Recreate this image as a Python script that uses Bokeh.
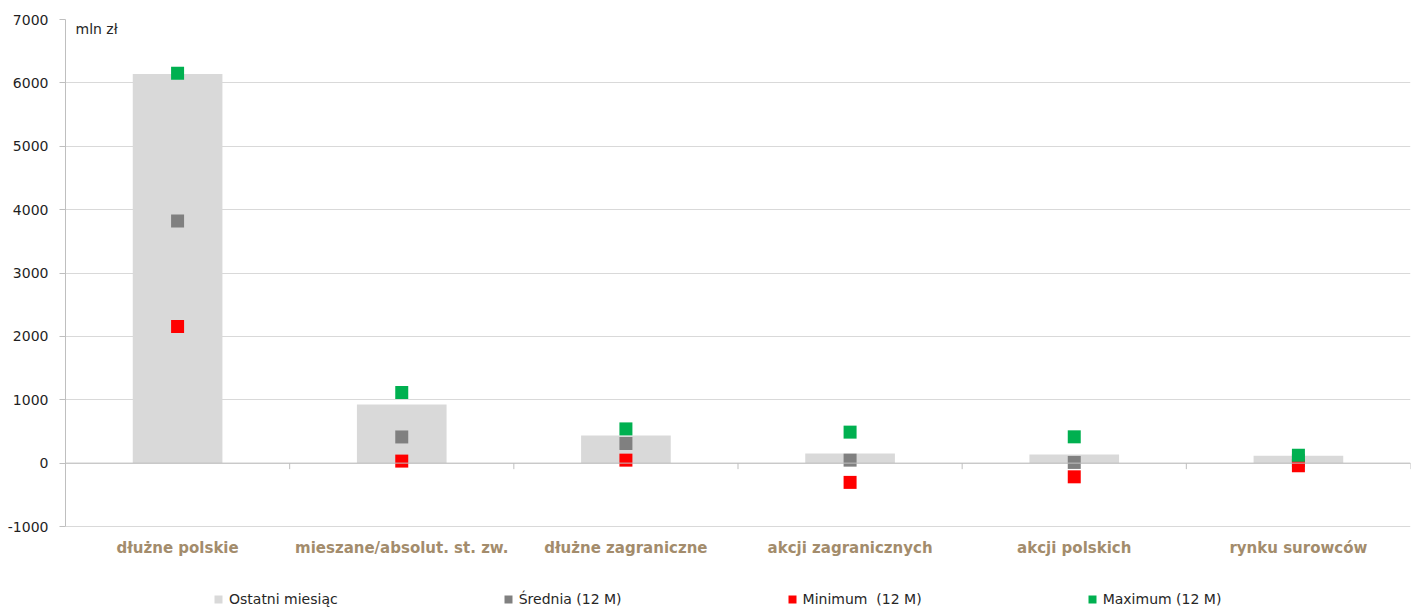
from bokeh.plotting import figure
from bokeh.models import FixedTicker, Span, Label, Legend, LegendItem, ColumnDataSource
from bokeh.transform import dodge
from bokeh.core.properties import value
from bokeh.embed import file_html
from bokeh.resources import INLINE

categories = ["dłużne polskie", "mieszane/absolut. st. zw.", "dłużne zagraniczne",
              "akcji zagranicznych", "akcji polskich", "rynku surowców"]
last_month = [6140, 926, 437, 150, 137, 115]
mean_12m = [3820, 413, 310, 47, 11, 40]
min_12m = [2156, 32, 47, -304, -216, -40]
max_12m = [6150, 1114, 540, 489, 415, 126]
y_ticks = [-1000, 0, 1000, 2000, 3000, 4000, 5000, 6000, 7000]
series_names = ["Ostatni miesiąc", "Średnia (12 M)", "Minimum  (12 M)", "Maximum (12 M)"]
series_colors = ["#D9D9D9", "#808080", "#FF0000", "#00B050"]

FONT = "DejaVu Sans"
W, H, TOP, LEFT = 1412, 607, 19, 65
AXIS_PX = 507  # pixel height of the -1000..7000 span
y_lo = y_ticks[-1] - (H - TOP) * (y_ticks[-1] - y_ticks[0]) / AXIS_PX

n = len(categories)
src = ColumnDataSource(dict(cat=categories, last=last_month, mean=mean_12m,
                            mn=min_12m, mx=max_12m, zero=[0] * n,
                            tick=[-95] * n, base=[y_ticks[0]] * n))

p = figure(x_range=categories, y_range=(y_lo, y_ticks[-1]), x_axis_location=None,
           width=W, height=H, output_backend="svg", toolbar_location=None,
           min_border_left=LEFT, min_border_right=2, min_border_top=TOP, min_border_bottom=0)
p.outline_line_color = None
p.xgrid.grid_line_color = None
p.ygrid.grid_line_color = "#D9D9D9"
p.ygrid.ticker = FixedTicker(ticks=y_ticks)

# y axis
p.yaxis.ticker = FixedTicker(ticks=y_ticks)
p.yaxis.bounds = (y_ticks[0], y_ticks[-1])
p.yaxis.major_label_overrides = {t: str(t) for t in y_ticks}
p.yaxis.axis_line_color = "#BFBFBF"
p.yaxis.major_tick_line_color = "#BFBFBF"
p.yaxis.major_tick_out = 6
p.yaxis.major_tick_in = 0
p.yaxis.minor_tick_line_color = None
p.yaxis.major_label_text_font = FONT
p.yaxis.major_label_text_font_size = "14px"
p.yaxis.major_label_text_color = "#1F1F1F"
p.yaxis.major_label_standoff = 11

# zero line with category boundary ticks
p.add_layout(Span(location=0, dimension="width", line_color="#BFBFBF", line_width=1))
p.segment(x0=dodge("cat", 0.5, range=p.x_range), x1=dodge("cat", 0.5, range=p.x_range),
          y0="zero", y1="tick", source=src, line_color="#BFBFBF", line_width=1)

r_bar = p.vbar(x="cat", top="last", bottom=0, width=0.4, source=src,
               fill_color=series_colors[0], line_color=None)
p.scatter(x="cat", y="mean", source=src, marker="square", size=13,
          fill_color=series_colors[1], line_color=None)
p.scatter(x="cat", y="mn", source=src, marker="square", size=13,
          fill_color=series_colors[2], line_color=None)
p.scatter(x="cat", y="mx", source=src, marker="square", size=13,
          fill_color=series_colors[3], line_color=None)

# category labels under the plot area
p.text(x="cat", y="base", text="cat", source=src, text_align="center",
       text_baseline="middle", y_offset=21, text_font=value(FONT), text_font_size="15px",
       text_font_style="bold", text_color="#A38C6C")

p.add_layout(Label(x=0, y=y_ticks[-1], x_units="screen", y_units="data",
                   x_offset=10, y_offset=-9, text="mln zł", text_font=FONT,
                   text_font_size="14px", text_color="#262626", text_baseline="middle"))

# legend swatches: flat (zero-height) bars carrying the marker colours
swatches = [r_bar]
for c in series_colors[1:]:
    swatches.append(p.vbar(x="cat", top="zero", bottom="zero", width=0.4, source=src,
                           fill_color=c, line_color=None))

legend = Legend(items=[LegendItem(label=nm, renderers=[r]) for nm, r in zip(series_names, swatches)],
                orientation="horizontal", location=(148, 0))
legend.glyph_width = 10
legend.glyph_height = 10
legend.label_standoff = 6
legend.spacing = 165
legend.padding = 0
legend.margin = 0
legend.border_line_color = None
legend.background_fill_color = None
legend.label_text_font = FONT
legend.label_text_font_size = "14px"
legend.label_text_color = "#262626"
p.add_layout(legend)

open("out.html", "w").write(file_html(p, INLINE))
